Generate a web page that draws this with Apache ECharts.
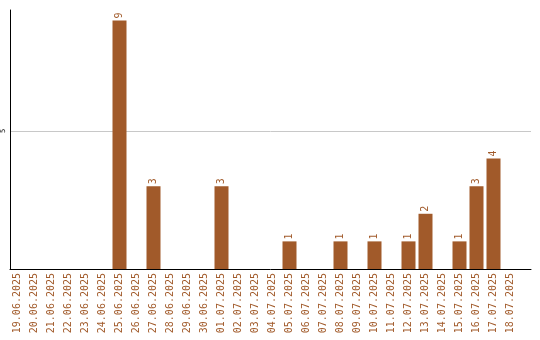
<!DOCTYPE html>
<html>
<head>
<meta charset="utf-8">
<script src="https://cdn.jsdelivr.net/npm/echarts@6/dist/echarts.min.js"></script>
<style>
  html, body { margin: 0; padding: 0; background: #fff; }
  #chart { width: 540px; height: 340px; }
</style>
</head>
<body>
<div id="chart"></div>
<script>
var days = ['19.06.2025', '20.06.2025', '21.06.2025', '22.06.2025', '23.06.2025', '24.06.2025',
    '25.06.2025', '26.06.2025', '27.06.2025', '28.06.2025', '29.06.2025', '30.06.2025',
    '01.07.2025', '02.07.2025', '03.07.2025', '04.07.2025', '05.07.2025', '06.07.2025',
    '07.07.2025', '08.07.2025', '09.07.2025', '10.07.2025', '11.07.2025', '12.07.2025',
    '13.07.2025', '14.07.2025', '15.07.2025', '16.07.2025', '17.07.2025', '18.07.2025'];
var counts = [0, 0, 0, 0, 0, 0, 9, 0, 3, 0, 0, 0, 3, 0, 0, 0, 1, 0, 0, 1, 0, 1, 0, 1, 2, 0, 1, 3, 4, 0];
var yTicks = [5];

var barColor = '#a15a2a';
var font = 'DejaVu Sans Mono';
var yMax = 9.38;

function exibeGrafico() {
    var myChart = echarts.init(document.getElementById('chart'));

    var option = {
        animation: false,
        // grid 0 = frame (axis lines, "5" label, gridline); grid 1 = bars
        grid: [
            { left: 10, right: 9, top: 10, bottom: 71 },
            { left: 9, right: 21, top: 10, bottom: 71 }
        ],
        xAxis: [
            {
                gridIndex: 0,
                type: 'value',
                min: 0,
                max: 1,
                axisLine: { show: true, lineStyle: { color: '#000', width: 1 } },
                axisTick: { show: false },
                axisLabel: { show: false },
                splitLine: { show: false }
            },
            {
                gridIndex: 1,
                type: 'category',
                data: days,
                axisLine: { show: false },
                axisTick: { show: false },
                axisLabel: {
                    interval: 0,
                    rotate: 90,
                    margin: 4,
                    color: barColor,
                    fontFamily: font,
                    fontSize: 10
                }
            }
        ],
        yAxis: [
            {
                gridIndex: 0,
                type: 'value',
                min: 0,
                max: yMax,
                interval: 5,
                axisLine: { show: true, lineStyle: { color: '#000', width: 1 } },
                axisTick: { show: false },
                splitLine: { show: false },
                axisLabel: {
                    rotate: 90,
                    margin: 3,
                    color: '#000',
                    fontFamily: font,
                    fontSize: 7,
                    formatter: function (v) {
                        return yTicks.indexOf(v) >= 0 ? String(v) : '';
                    }
                }
            },
            {
                gridIndex: 1,
                type: 'value',
                min: 0,
                max: yMax,
                show: false
            }
        ],
        series: [
            {
                type: 'line',
                xAxisIndex: 0,
                yAxisIndex: 0,
                z: 0,
                data: [],
                markLine: {
                    silent: true,
                    z: 0,
                    symbol: 'none',
                    label: { show: false },
                    lineStyle: { color: '#c8c8c8', type: 'solid', width: 1 },
                    data: yTicks.map(function (t) { return { yAxis: t }; })
                }
            },
            {
                type: 'bar',
                xAxisIndex: 1,
                yAxisIndex: 1,
                z: 10,
                data: counts.map(function (c) { return c === 0 ? '-' : c; }),
                barWidth: 14,
                itemStyle: { color: barColor },
                label: {
                    show: true,
                    position: 'top',
                    rotate: 90,
                    align: 'left',
                    verticalAlign: 'middle',
                    distance: 2,
                    color: barColor,
                    fontFamily: font,
                    fontSize: 10
                }
            }
        ]
    };

    myChart.setOption(option);
}

exibeGrafico();
</script>
</body>
</html>
